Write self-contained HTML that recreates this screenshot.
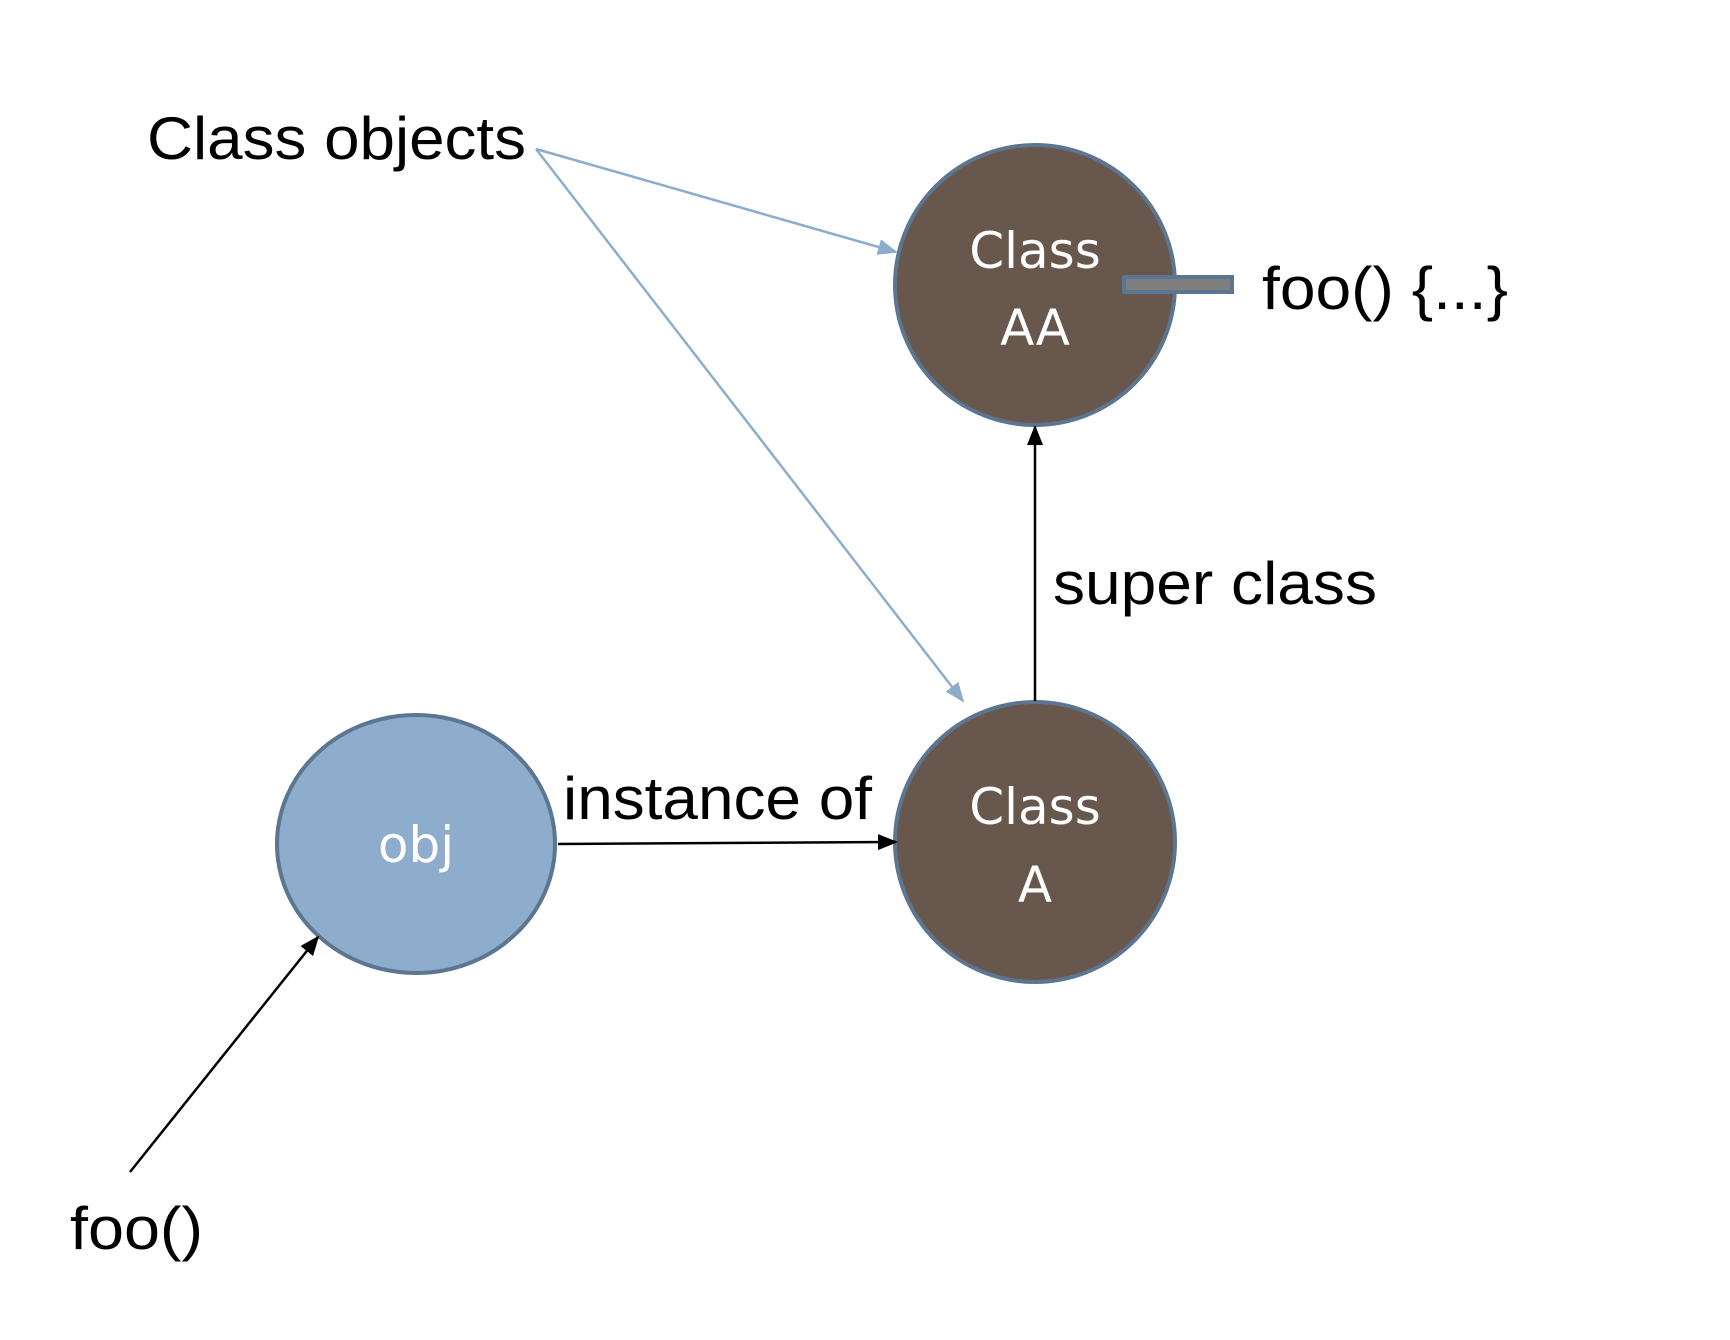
<!DOCTYPE html>
<html><head><style>
html,body{margin:0;padding:0;background:#fff;}
svg{display:block;}
text{font-family:"Liberation Sans",sans-serif;}
.w{font-family:"DejaVu Sans","Liberation Sans",sans-serif;fill:#fff;text-anchor:middle;}
</style></head><body>
<svg width="1730" height="1340" viewBox="0 0 1730 1340" xmlns="http://www.w3.org/2000/svg">
<defs>
<marker id="bl" markerWidth="20" markerHeight="16" refX="18" refY="8" orient="auto" markerUnits="userSpaceOnUse"><path d="M0,0 L20,8 L0,16 z" fill="#8eaccb"/></marker>
<marker id="bk2" markerWidth="20" markerHeight="16" refX="18" refY="8" orient="auto" markerUnits="userSpaceOnUse"><path d="M0,0 L20,8 L0,16 z" fill="#000"/></marker>
</defs>
<circle cx="1035" cy="285" r="140" fill="#67574c" stroke="#5c7590" stroke-width="4"/>
<circle cx="1035" cy="842" r="140" fill="#67574c" stroke="#5c7590" stroke-width="4"/>
<ellipse cx="416" cy="844" rx="139" ry="129" fill="#8eaccb" stroke="#5c7590" stroke-width="4"/>
<rect x="1124" y="277" width="108" height="15" fill="#7f7f7f" stroke="#5c7590" stroke-width="4"/>
<line x1="536" y1="149" x2="896" y2="252" stroke="#8eaccb" stroke-width="2.5" marker-end="url(#bl)"/>
<line x1="536" y1="149" x2="963" y2="701" stroke="#8eaccb" stroke-width="2.5" marker-end="url(#bl)"/>
<line x1="1035" y1="701" x2="1035" y2="427" stroke="#000" stroke-width="2.5" marker-end="url(#bk2)"/>
<line x1="558" y1="844" x2="896" y2="842" stroke="#000" stroke-width="2.5" marker-end="url(#bk2)"/>
<line x1="130" y1="1172" x2="318" y2="937" stroke="#000" stroke-width="2.5" marker-end="url(#bk2)"/>
<text x="147" y="159" font-size="60" textLength="379" lengthAdjust="spacingAndGlyphs">Class objects</text>
<text x="1262" y="309" font-size="60" textLength="246" lengthAdjust="spacingAndGlyphs">foo() {...}</text>
<text x="1053" y="604" font-size="60" textLength="324" lengthAdjust="spacingAndGlyphs">super class</text>
<text x="563" y="819" font-size="60" textLength="309" lengthAdjust="spacingAndGlyphs">instance of</text>
<text x="70" y="1249" font-size="60" textLength="133" lengthAdjust="spacingAndGlyphs">foo()</text>
<text class="w" x="1035" y="268" font-size="50">Class</text>
<text class="w" x="1035" y="345" font-size="50">AA</text>
<text class="w" x="1035" y="824" font-size="50">Class</text>
<text class="w" x="1035" y="902" font-size="50">A</text>
<text class="w" x="416" y="862" font-size="50">obj</text>
</svg>
</body></html>
